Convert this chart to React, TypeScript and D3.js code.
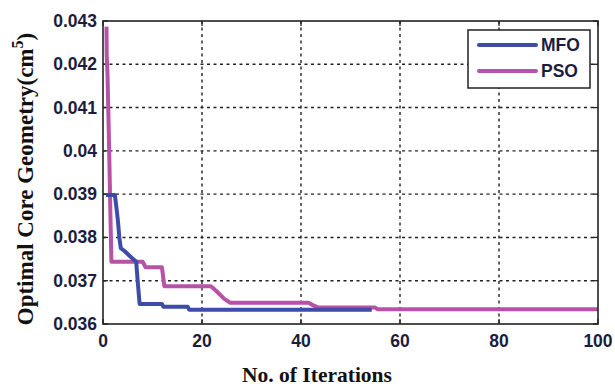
import React from "react";
import * as d3 from "d3";

const mfoIter = [0.6, 2.4, 2.7, 3.0, 3.3, 3.6, 4.4, 5.4, 6.7, 7.0, 7.4, 11.9, 12.2, 17.1, 17.4, 54.3];
const mfoValues = [0.03898, 0.03898, 0.0387, 0.0384, 0.038, 0.03775, 0.03768, 0.03757, 0.03744, 0.037, 0.03646, 0.03646, 0.0364, 0.0364, 0.03633, 0.03633];

const psoIter = [0.7, 0.75, 0.9, 1.1, 1.3, 1.5, 1.7, 8, 8.6, 11.9, 12.4, 21.8, 23, 24.5, 25.7, 41.5, 42.5, 43.5, 55, 55.5, 100];
const psoValues = [0.04287, 0.0422, 0.0418, 0.0408, 0.0397, 0.0385, 0.03744, 0.03744, 0.03731, 0.03731, 0.03687, 0.03687, 0.03675, 0.03658, 0.03649, 0.03649, 0.03643, 0.03638, 0.03638, 0.03634, 0.03634];

const xTicks = [0, 20, 40, 60, 80, 100];
const yTicks = [0.036, 0.037, 0.038, 0.039, 0.04, 0.041, 0.042, 0.043];
const seriesNames = ["MFO", "PSO"];
const colors = ["#3d4ca9", "#b752a6"];

const W = 615, H = 388;
const L = 103, R = 598, T = 21, B = 324;
const textColor = "#1c1c3c";

export default function App() {
  const x = d3.scaleLinear().domain([0, 100]).range([L, R]);
  const y = d3.scaleLinear().domain([0.036, 0.043]).range([B, T]);
  const line = d3.line<[number, number]>().x(d => x(d[0])).y(d => y(d[1]));
  const mfo = mfoIter.map((it, i) => [it, mfoValues[i]] as [number, number]);
  const pso = psoIter.map((it, i) => [it, psoValues[i]] as [number, number]);
  const fmt = (v: number) => String(+v.toFixed(3));
  return (
    <svg width={W} height={H} style={{ position: "absolute", left: 0, top: 0, background: "#fff" }}>
      <rect x={0} y={0} width={W} height={H} fill="#fff" />
      {xTicks.slice(1, -1).map(t => (
        <line key={"gx" + t} x1={x(t)} x2={x(t)} y1={T} y2={B} stroke="#222" strokeWidth={1.4} strokeDasharray="3,3.5" />
      ))}
      {yTicks.slice(1, -1).map(t => (
        <line key={"gy" + t} x1={L} x2={R} y1={y(t)} y2={y(t)} stroke="#222" strokeWidth={1.4} strokeDasharray="3,3.5" />
      ))}
      {xTicks.map(t => (
        <g key={"tx" + t}>
          <line x1={x(t)} x2={x(t)} y1={B} y2={B - 5} stroke="#222" strokeWidth={1.3} />
          <line x1={x(t)} x2={x(t)} y1={T} y2={T + 5} stroke="#222" strokeWidth={1.3} />
          <text x={x(t)} y={347} textAnchor="middle" fontFamily="Liberation Sans, Arial, sans-serif" fontWeight="bold" fontSize={17.5} fill={textColor}>{t}</text>
        </g>
      ))}
      {yTicks.map(t => (
        <g key={"ty" + t}>
          <line x1={L} x2={L + 5} y1={y(t)} y2={y(t)} stroke="#222" strokeWidth={1.3} />
          <line x1={R} x2={R - 5} y1={y(t)} y2={y(t)} stroke="#222" strokeWidth={1.3} />
          <text x={97} y={y(t) + 6} textAnchor="end" fontFamily="Liberation Sans, Arial, sans-serif" fontWeight="bold" fontSize={17.5} fill={textColor}>{fmt(t)}</text>
        </g>
      ))}
      <path d={line(pso) || ""} fill="none" stroke={colors[1]} strokeWidth={4} strokeLinejoin="round" />
      <path d={line(mfo) || ""} fill="none" stroke={colors[0]} strokeWidth={4} strokeLinejoin="round" />
      <rect x={L} y={T} width={R - L} height={B - T} fill="none" stroke="#222" strokeWidth={1.6} />
      <rect x={468} y={30} width={122} height={58} fill="#fff" stroke="#222" strokeWidth={1.5} />
      {seriesNames.map((n, i) => (
        <g key={n}>
          <line x1={479} x2={536} y1={45 + i * 26} y2={45 + i * 26} stroke={colors[i]} strokeWidth={4} strokeLinecap="round" />
          <text x={541} y={51 + i * 26} fontFamily="Liberation Sans, Arial, sans-serif" fontWeight="bold" fontSize={17.5} fill={textColor}>{n}</text>
        </g>
      ))}
      <text x={317} y={382} textAnchor="middle" fontFamily="Liberation Serif, Times New Roman, serif" fontWeight="bold" fontSize={21.5} fill="#111">No. of Iterations</text>
      <text transform="translate(33,179) rotate(-90)" textAnchor="middle" fontFamily="Liberation Serif, Times New Roman, serif" fontWeight="bold" fontSize={23} fill="#111">
        Optimal Core Geometry(cm<tspan dy={-10} fontSize={16}>5</tspan><tspan dy={10}>)</tspan>
      </text>
    </svg>
  );
}
